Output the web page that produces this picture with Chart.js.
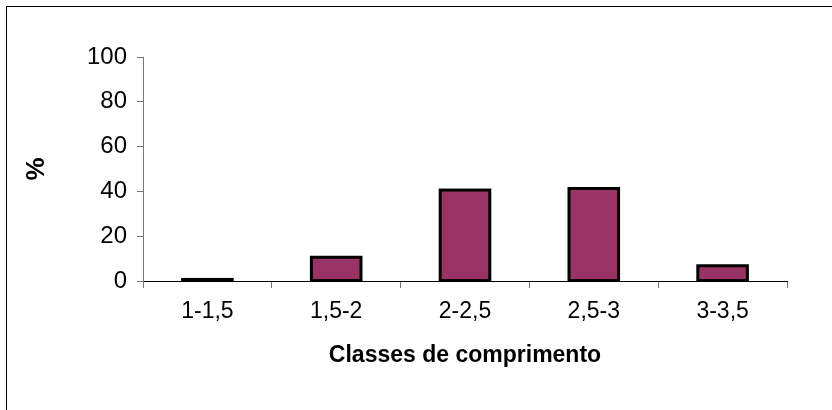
<!DOCTYPE html>
<html>
<head>
<meta charset="utf-8">
<script src="https://cdn.jsdelivr.net/npm/chart.js@4/dist/chart.umd.min.js"></script>
<style>
  html, body { margin: 0; padding: 0; background: #ffffff; }
  #wrap { position: relative; width: 832px; height: 410px; }
</style>
</head>
<body>
<div id="wrap"><canvas id="chart" width="832" height="410"></canvas></div>
<script>
const classes = ["1-1,5", "1,5-2", "2-2,5", "2,5-3", "3-3,5"];
const percentages = [0.7, 10.6, 40.6, 41.3, 6.8];
const yTicks = [0, 20, 40, 60, 80, 100];

const BAR_COLOR = "#993366";
const FONT = "'Liberation Sans', Arial, sans-serif";

// outer frame of the original chart object
const framePlugin = {
    id: "frame",
    beforeDraw(chart) {
        const ctx = chart.ctx;
        ctx.save();
        ctx.fillStyle = "#ffffff";
        ctx.fillRect(0, 0, chart.width, chart.height);
        ctx.strokeStyle = "#000000";
        ctx.lineWidth = 1;
        ctx.strokeRect(6.5, 6.5, 1000, 1000);
        ctx.restore();
    },
};

// excel-style outline: stroke centred on the bar edges, even for tiny bars
const outlinePlugin = {
    id: "outline",
    afterDatasetsDraw(chart) {
        const ctx = chart.ctx;
        ctx.save();
        ctx.strokeStyle = "#000000";
        ctx.lineWidth = 3;
        chart.getDatasetMeta(0).data.forEach((bar) => {
            const { x, y, base, width } = bar.getProps(["x", "y", "base", "width"], true);
            ctx.strokeRect(x - width / 2, y, width, base - y);
        });
        ctx.restore();
    },
};

new Chart(document.getElementById("chart"), {
    type: "bar",
    data: {
        labels: classes,
        datasets: [
            {
                data: percentages,
                backgroundColor: BAR_COLOR,
                borderWidth: 0,
                barPercentage: 0.385,
                categoryPercentage: 1.0,
            },
        ],
    },
    options: {
        responsive: false,
        animation: false,
        layout: { padding: { left: 0, top: 57, right: 45, bottom: 0 } },
        plugins: {
            legend: { display: false },
            tooltip: { enabled: false },
        },
        scales: {
            x: {
                offset: true,
                grid: {
                    offset: true,
                    drawOnChartArea: false,
                    drawTicks: true,
                    tickLength: 7,
                    color: "#777777",
                },
                border: { display: true, color: "#000000", width: 1 },
                ticks: {
                    color: "#000000",
                    padding: 10,
                    font: { family: FONT, size: 23 },
                },
                title: {
                    display: true,
                    text: "Classes de comprimento",
                    color: "#000000",
                    font: { family: FONT, size: 23, weight: "bold" },
                    padding: { top: 0, bottom: 41 },
                },
                afterFit: (scale) => { scale.height = 129; },
            },
            y: {
                min: 0,
                max: 100,
                afterBuildTicks: (scale) => {
                    scale.ticks = yTicks.map((v) => ({ value: v }));
                },
                grid: {
                    drawOnChartArea: false,
                    drawTicks: true,
                    tickLength: 6,
                    color: "#777777",
                },
                border: { display: true, color: "#777777", width: 1 },
                ticks: {
                    color: "#000000",
                    padding: 10,
                    font: { family: FONT, size: 24 },
                },
                title: {
                    display: true,
                    text: "%",
                    color: "#000000",
                    font: { family: FONT, size: 26, weight: "bold" },
                    padding: { top: 21, bottom: 0 },
                },
                afterFit: (scale) => { scale.width = 143; },
            },
        },
    },
    plugins: [framePlugin, outlinePlugin],
});
</script>
</body>
</html>
